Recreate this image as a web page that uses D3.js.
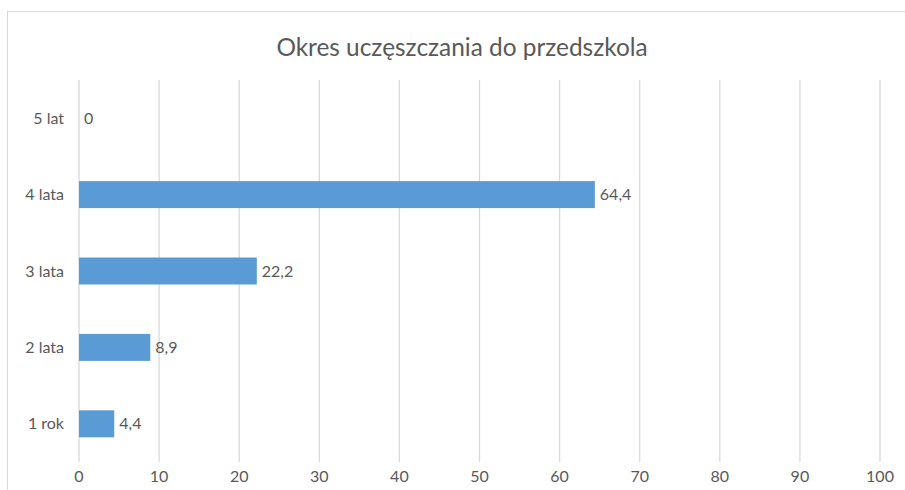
<!DOCTYPE html>
<html>
<head>
<meta charset="utf-8">
<script src="https://cdn.jsdelivr.net/npm/d3@7"></script>
<style>
  body { margin: 0; background: #fff; }
  svg { display: block; font-family: Lato, "Open Sans", sans-serif; }
</style>
</head>
<body>
<svg id="chart" width="905" height="490"></svg>
<script>
// chart data
const categories = ["5 lat", "4 lata", "3 lata", "2 lata", "1 rok"];
const values = [0, 64.4, 22.2, 8.9, 4.4];
const ticks = [0, 10, 20, 30, 40, 50, 60, 70, 80, 90, 100];
const title = "Okres uczęszczania do przedszkola";

const svg = d3.select("#chart");
const textColor = "#595959";

// outer chart border (runs off the right and bottom edges)
svg.append("rect")
  .attr("x", 7.5).attr("y", 11.5)
  .attr("width", 1000).attr("height", 1000)
  .attr("fill", "none").attr("stroke", "#d9d9d9");

svg.append("text")
  .attr("x", 462).attr("y", 56)
  .attr("text-anchor", "middle")
  .attr("font-size", 24.4)
  .attr("fill", textColor)
  .text(title);

const x = d3.scaleLinear().domain([0, 100]).range([79, 880]);
const y = d3.scaleBand().domain(categories).range([80, 462])
  .paddingInner(0.647).paddingOuter(0.3235);

// gridlines
svg.append("g").selectAll("line")
  .data(ticks)
  .join("line")
  .attr("x1", d => x(d)).attr("x2", d => x(d))
  .attr("y1", 80).attr("y2", 462)
  .attr("stroke", "#d9d9d9").attr("stroke-width", 1.3);

// tick labels
svg.append("g").selectAll("text")
  .data(ticks)
  .join("text")
  .attr("x", d => x(d)).attr("y", 482)
  .attr("text-anchor", "middle")
  .attr("font-size", 16)
  .attr("fill", textColor)
  .text(d => d);

// category labels
svg.append("g").selectAll("text")
  .data(categories)
  .join("text")
  .attr("x", 64)
  .attr("y", d => y(d) + y.bandwidth() / 2)
  .attr("dy", "0.35em")
  .attr("text-anchor", "end")
  .attr("font-size", 16)
  .attr("fill", textColor)
  .text(d => d);

// bars
svg.append("g").selectAll("rect")
  .data(values)
  .join("rect")
  .attr("x", x(0))
  .attr("y", (d, i) => y(categories[i]))
  .attr("width", d => x(d) - x(0))
  .attr("height", y.bandwidth())
  .attr("fill", "#5b9bd5");

// value labels
svg.append("g").selectAll("text")
  .data(values)
  .join("text")
  .attr("x", d => x(d) + 5)
  .attr("y", (d, i) => y(categories[i]) + y.bandwidth() / 2)
  .attr("dy", "0.35em")
  .attr("font-size", 16)
  .attr("fill", textColor)
  .text(d => String(d).replace(".", ","));
</script>
</body>
</html>
